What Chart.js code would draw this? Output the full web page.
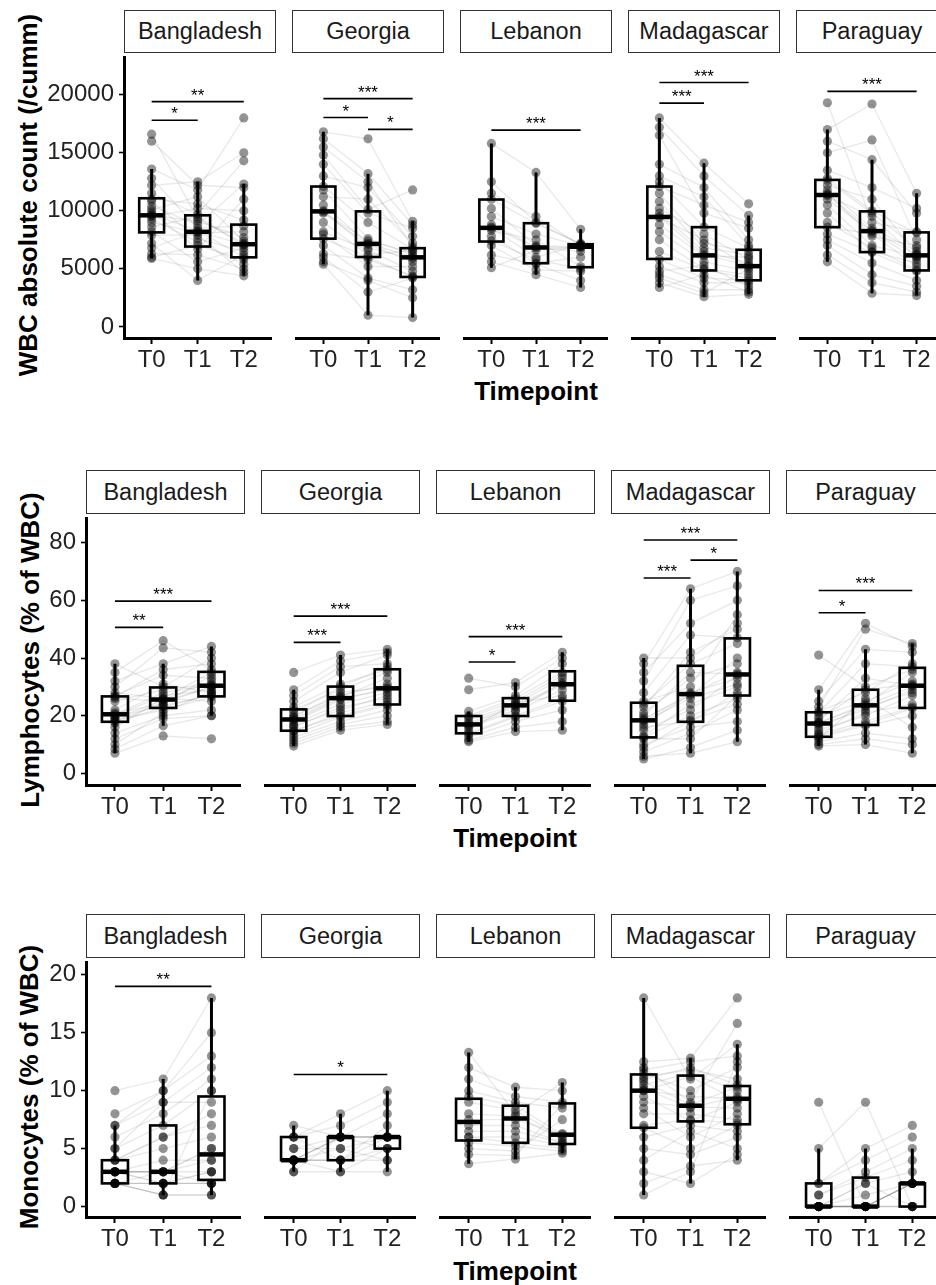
<!DOCTYPE html>
<html>
<head>
<meta charset="utf-8">
<script src="https://cdn.jsdelivr.net/npm/chart.js@4.4.1/dist/chart.umd.min.js"></script>
<style>
  body { margin: 0; background: #fff; font-family: "Liberation Sans", Arial, sans-serif; }
  #wrap { position: relative; width: 936px; height: 1285px; overflow: hidden; background: #fff; }
  #wrap canvas { position: absolute; }
  .strip { position: absolute; box-sizing: border-box; border: 1.3px solid #333; background: #fff;
           font-size: 23.5px; color: #1a1a1a; display: flex; align-items: center; justify-content: center; }
  .ytitle { position: absolute; font-weight: bold; font-size: 26px; color: #000; white-space: nowrap;
            transform: translate(-50%, -50%) rotate(-90deg); }
  .xtitle { position: absolute; font-weight: bold; font-size: 26px; color: #000; white-space: nowrap;
            transform: translate(-50%, -50%); }
</style>
</head>
<body>
<div id="wrap"></div>
<script>
const countries = ['Bangladesh', 'Georgia', 'Lebanon', 'Madagascar', 'Paraguay'];
const timepoints = ['T0', 'T1', 'T2'];

const wbcTicks = [0, 5000, 10000, 15000, 20000];
const lymTicks = [0, 20, 40, 60, 80];
const monoTicks = [0, 5, 10, 15, 20];

const yTitles = ['WBC absolute count (/cumm)', 'Lymphocytes (% of WBC)', 'Monocytes (% of WBC)'];

// boxes: per country, T0/T1/T2 = [lower whisker, Q1, median, Q3, upper whisker]
const wbcBox = [
  [[5900, 8140, 9610, 11080, 13600], [4000, 6920, 8190, 9610, 12500], [4400, 5990, 7120, 8810, 12300]],
  [[5400, 7600, 9950, 12090, 16800], [1000, 6020, 7150, 9950, 13200], [800, 4300, 5990, 6780, 9100]],
  [[5100, 7350, 8530, 10970, 15800], [4500, 5480, 6840, 8930, 13300], [3400, 5140, 6900, 7120, 8400]],
  [[3400, 5850, 9470, 12090, 18000], [2600, 4860, 6160, 8590, 14100], [2800, 4010, 5230, 6640, 9600]],
  [[5600, 8590, 11360, 12660, 17000], [2900, 6440, 8250, 9950, 14400], [2700, 4860, 6160, 8140, 11500]]
];
const lymBox = [
  [[7, 17.9, 20.5, 26.7, 38], [16.5, 22.7, 25.6, 29.8, 38], [20, 26.7, 30.4, 35.2, 44]],
  [[9.5, 14.8, 18.7, 22.2, 29], [15, 19.9, 26.1, 30.1, 41], [17, 23.9, 29.5, 36.1, 43]],
  [[11, 13.9, 17, 19.9, 21.5], [14.5, 19.9, 23.6, 26.1, 31.5], [15, 25.2, 30.9, 35.4, 42]],
  [[5, 12.5, 18.4, 24.5, 40], [7, 17.9, 27.5, 37.3, 64], [11, 27, 34.3, 46.8, 70]],
  [[9.5, 12.7, 17.3, 21.2, 29], [10, 16.8, 23.6, 29, 43], [7, 22.7, 30.4, 36.6, 45]]
];
const monoBox = [
  [[2, 2, 3, 4, 7], [1, 2, 3, 7, 11], [1, 2.3, 4.5, 9.5, 18]],
  [[3, 4, 4, 6, 7], [3, 4, 6, 6, 8], [3, 5, 6, 6, 10]],
  [[3.7, 5.7, 7.3, 9.3, 13.3], [4.1, 5.5, 7.6, 8.7, 10.3], [4.6, 5.4, 6.2, 8.9, 10.7]],
  [[1, 6.8, 10, 11.4, 18], [2, 7.35, 8.7, 11.3, 12.8], [4, 7.1, 9.3, 10.4, 14]],
  [[0, 0, 0, 2, 5], [0, 0, 0, 2.5, 5], [0, 0, 2, 2, 5]]
];

// individual values, per country [T0, T1, T2]; index i is the same subject across timepoints
const wbcPoints = [
  [ // Bangladesh
    [16600, 16000, 13600, 12800, 12200, 11500, 11000, 10800, 10400, 10100, 9900, 9700, 9600, 9500, 9300, 9000, 8600, 8200, 7900, 7200, 6800, 6300, 6000, 5900],
    [9300, 12200, 11800, 8500, 12500, 9700, 10600, 7600, 8800, 11200, 6700, 8300, 9100, 10200, 7300, 8100, 9500, 5600, 7900, 4000, 8200, 6200, 7000, 5000],
    [7200, 12000, 18000, 8700, 15000, 14300, 9200, 6500, 12300, 7400, 11000, 6000, 7700, 10000, 5400, 8200, 7000, 6800, 4700, 6200, 7100, 5000, 5800, 4400]
  ],
  [ // Georgia
    [16800, 16200, 15500, 14800, 14000, 13000, 12100, 11800, 11200, 10500, 10000, 9900, 9800, 9000, 8200, 8000, 7600, 7000, 6300, 6000, 5600, 5400],
    [16200, 13200, 12500, 10100, 9800, 12000, 9000, 7600, 11000, 7200, 6800, 7400, 7100, 6200, 6600, 5200, 6000, 4200, 5800, 3000, 4000, 1000],
    [9100, 8800, 6900, 11800, 8500, 7800, 6700, 6200, 7200, 6000, 5900, 6400, 5600, 6600, 4800, 5200, 4300, 3200, 4400, 4200, 2500, 800]
  ],
  [ // Lebanon
    [15800, 12500, 11500, 11000, 10200, 9500, 8800, 8600, 8500, 8300, 7800, 7400, 7000, 6200, 5600, 5100],
    [13300, 9000, 9500, 8900, 7000, 8000, 6900, 6800, 6000, 7500, 5500, 5800, 4900, 5400, 4500, 6600],
    [8400, 7100, 7000, 7200, 6900, 7000, 6800, 6500, 7100, 5200, 6000, 5000, 4800, 4000, 3400, 6900]
  ],
  [ // Madagascar
    [18000, 17200, 16500, 14000, 13000, 12500, 12100, 11500, 10800, 10200, 9800, 9500, 9400, 8800, 8200, 7500, 6500, 5800, 5200, 4800, 4500, 4200, 3800, 3400],
    [14100, 13000, 9800, 12000, 11200, 8600, 10500, 7200, 6800, 8000, 6500, 6200, 7500, 6100, 5600, 5000, 4900, 4200, 3800, 5300, 3200, 2900, 2600, 4500],
    [10600, 9600, 8500, 7500, 7000, 6800, 9000, 6500, 6200, 5800, 5500, 5300, 5200, 6000, 4800, 4500, 4200, 4000, 3800, 3500, 3200, 5000, 2800, 3000]
  ],
  [ // Paraguay
    [19300, 17000, 16000, 15000, 13500, 12800, 12600, 12200, 11800, 11500, 11400, 11300, 11000, 10500, 9800, 9000, 8600, 8000, 7500, 7000, 6200, 5600],
    [9000, 19200, 14400, 16100, 12000, 10000, 9800, 11000, 8500, 7800, 8300, 9500, 8200, 7000, 6500, 6800, 8000, 6400, 5500, 4500, 3800, 2900],
    [8200, 11500, 9800, 7500, 10200, 8100, 6800, 6300, 6500, 7000, 6200, 6000, 5800, 6100, 5500, 4900, 5200, 4800, 4000, 3500, 3000, 2700]
  ]
];
const lymPoints = [
  [ // Bangladesh
    [38, 35, 32, 30, 28, 27, 26.5, 26, 25, 22, 21, 20.5, 20, 19.5, 19, 18.5, 18, 17.5, 16, 14, 12, 10, 8.5, 7],
    [30, 46, 38, 43.5, 26, 34, 36, 25, 29, 31, 24, 28, 27, 23.5, 25.5, 22, 24.5, 23, 26, 20, 19, 21, 16.5, 13],
    [40, 36, 44, 42, 35, 33, 38, 30, 31, 28, 34, 30.5, 29, 27, 32, 26.5, 30, 27.5, 25, 22, 20, 28.5, 20, 12]
  ],
  [ // Georgia
    [35, 29, 27, 25, 23, 22, 21, 20, 19.5, 19, 18.5, 18, 17, 16.5, 16, 15, 14.5, 13.5, 12.5, 11.5, 10.5, 9.5],
    [41, 39, 37, 35, 31, 29, 30, 27, 28, 26.5, 26, 25.5, 24, 22, 23, 20, 21, 19.5, 18, 17, 16, 15],
    [43, 42, 38, 41, 36, 35, 37, 31, 30, 33, 29, 29.5, 28, 27, 26, 24, 25, 23.5, 22, 20, 18, 17]
  ],
  [ // Lebanon
    [33, 29, 21.5, 20, 19.5, 18.5, 17.5, 17, 16.5, 16, 15, 14, 13.5, 12.5, 11.5, 11],
    [30, 31.5, 27, 26, 25, 24, 23.5, 23, 22, 21.5, 24.5, 20, 19.5, 18, 16, 14.5],
    [40, 42, 38, 35, 34, 33, 31, 30.5, 31.5, 29, 27, 26, 25, 22, 18, 15]
  ],
  [ // Madagascar
    [40, 38, 35, 32, 28, 25, 24, 23, 21, 20, 19, 18.5, 18, 17, 16, 15, 13, 12.5, 12, 10, 9, 7.5, 6, 5],
    [40, 64, 52, 60, 48, 30, 38, 42, 33, 35, 27, 28, 26, 27.5, 18, 22, 24, 20, 12, 16, 18.5, 14, 7, 9],
    [52, 70, 60, 65, 47, 55, 45, 50, 38, 34.5, 40, 33, 31, 35, 28, 34, 30, 26, 27, 18, 24, 22, 11, 15]
  ],
  [ // Paraguay
    [41, 29, 25, 23, 21.5, 21, 20, 19, 18, 17.5, 17.5, 17, 16, 15, 14, 13.5, 13, 12.5, 12, 11, 10, 9.5],
    [30, 52, 43, 50, 28, 38, 25, 29, 33, 24, 23.5, 22, 23, 20, 21, 18, 17, 16.5, 26, 14, 12, 10],
    [36, 44, 42, 45, 38, 37, 32, 31, 30.5, 35, 30, 29, 28, 27, 24, 23, 22.5, 20, 16, 12, 10, 7]
  ]
];
const monoPoints = [
  [ // Bangladesh
    [10, 8, 7, 7, 6, 5, 5, 4, 4, 4, 3, 3, 3, 3, 3, 3, 3, 2, 2, 2, 2, 2, 2, 2],
    [11, 10, 10, 9, 8, 7, 9, 6, 6, 5, 3, 3, 3, 4, 3, 2, 2, 3, 2, 2, 2, 1, 1, 1],
    [18, 15, 13, 12, 11, 10, 9, 8, 7, 6, 5, 4, 5, 4, 3, 3, 3, 2, 2, 2, 2, 1, 10, 1]
  ],
  [ // Georgia
    [7, 6, 6, 6, 5, 5, 4, 4, 4, 4, 4, 4, 4, 4, 3, 3],
    [6, 8, 4, 7, 5, 6, 6, 6, 4, 5, 6, 4, 3, 4, 6, 3],
    [6, 10, 7, 9, 6, 8, 5, 6, 6, 4, 6, 5, 5, 4, 6, 3]
  ],
  [ // Lebanon
    [13.3, 12, 11, 10, 9.5, 9, 8, 7.5, 7, 6.5, 6, 6, 5.5, 5, 4.5, 3.7],
    [8, 10.3, 9.5, 9, 8.7, 8.3, 7.8, 7.5, 7, 6.5, 6, 5.5, 5.2, 4.8, 4.4, 4.1],
    [10.7, 10, 9, 8.5, 6.2, 6, 5.8, 6.3, 5.5, 5.5, 5.3, 5, 4.8, 7.5, 8.8, 4.6]
  ],
  [ // Madagascar
    [18, 12.5, 12, 11.8, 11.5, 11.2, 11, 10.8, 10.5, 10.2, 10, 10, 9.5, 9, 8.5, 8, 7, 6.8, 6, 5, 4, 3, 2, 1],
    [11, 12.8, 9, 12.5, 10, 11.8, 12, 8.8, 11.5, 8.5, 9.5, 11.2, 7.4, 8.6, 6, 8, 7.5, 5, 7, 4.5, 6.5, 2, 3.5, 3],
    [14, 18, 15.8, 13, 12, 11, 10.5, 10.3, 10, 9.5, 9.3, 9.2, 9, 8.5, 8, 7.5, 7.2, 7, 6.5, 6, 5, 4.5, 4, 12.5]
  ],
  [ // Paraguay
    [9, 5, 2, 2, 1, 1, 0, 0, 0, 0, 0, 0, 0, 0, 0, 0],
    [0, 9, 5, 4, 3, 2.5, 2, 1, 0, 0, 0, 0, 2, 0, 0, 0],
    [2, 0, 7, 6, 5, 4, 3, 2, 2, 2, 2, 0, 0, 0, 0, 2]
  ]
];

// significance: [country index, from timepoint, to timepoint, y value, label]
const wbcSig = [
  [0, 0, 2, 19400, '**'], [0, 0, 1, 17800, '*'],
  [1, 0, 2, 19660, '***'], [1, 0, 1, 18030, '*'], [1, 1, 2, 17010, '*'],
  [2, 0, 2, 16950, '***'],
  [3, 0, 2, 21050, '***'], [3, 0, 1, 19270, '***'],
  [4, 0, 2, 20290, '***']
];
const lymSig = [
  [0, 0, 2, 59.7, '***'], [0, 0, 1, 50.6, '**'],
  [1, 0, 2, 54.5, '***'], [1, 0, 1, 45.4, '***'],
  [2, 0, 2, 47.4, '***'], [2, 0, 1, 38.6, '*'],
  [3, 0, 2, 80.9, '***'], [3, 1, 2, 73.9, '*'], [3, 0, 1, 67.7, '***'],
  [4, 0, 2, 63.4, '***'], [4, 0, 1, 55.7, '*']
];
const monoSig = [
  [0, 0, 2, 19.0, '**'],
  [1, 0, 2, 11.4, '*']
];

const rowData = [
  { box: wbcBox, points: wbcPoints, sig: wbcSig, ticks: wbcTicks },
  { box: lymBox, points: lymPoints, sig: lymSig, ticks: lymTicks },
  { box: monoBox, points: monoPoints, sig: monoSig, ticks: monoTicks }
];

// page layout (pixels) per row
const rowLayout = [
  { panelX: [124, 292, 460, 628, 796], panelW: 152, top: 53, bottom: 338, stripTop: 10, axisW: 84,
    yMin: -958, yMax: 23195, yTitle: [28, 195], xTitle: [536, 391] },
  { panelX: [86, 261, 436, 611, 786], panelW: 159, top: 514, bottom: 785, stripTop: 470, axisW: 44,
    yMin: -4.0, yMax: 88.3, yTitle: [30, 650], xTitle: [515, 838] },
  { panelX: [86, 261, 436, 611, 786], panelW: 159, top: 958, bottom: 1217, stripTop: 914, axisW: 44,
    yMin: -0.9, yMax: 21.05, yTitle: [29, 1087], xTitle: [515, 1271] }
];

const FONT = '"Liberation Sans", Arial, sans-serif';
const X_AXIS_H = 46;
const BOX_HALF = 0.27;
const wrap = document.getElementById('wrap');

function boxPlugin(box, sig) {
  return {
    id: 'boxAndBrackets',
    beforeDatasetDraw(chart, args) {
      if (args.index !== 0) return; // points are dataset 0 (drawn last), boxes go just under them
      const { ctx, scales: { x, y } } = chart;
      ctx.save();
      ctx.strokeStyle = '#000';
      box.forEach((b, t) => {
        const [lo, q1, md, q3, hi] = b;
        const cx = x.getPixelForValue(t);
        const hw = x.getPixelForValue(t + BOX_HALF) - cx;
        ctx.lineWidth = 3;
        ctx.beginPath();
        ctx.moveTo(cx, y.getPixelForValue(hi)); ctx.lineTo(cx, y.getPixelForValue(q3));
        ctx.moveTo(cx, y.getPixelForValue(q1)); ctx.lineTo(cx, y.getPixelForValue(lo));
        ctx.stroke();
        ctx.lineWidth = 2.6;
        ctx.strokeRect(cx - hw, y.getPixelForValue(q3), 2 * hw, y.getPixelForValue(q1) - y.getPixelForValue(q3));
        ctx.lineWidth = 4.5;
        ctx.beginPath();
        ctx.moveTo(cx - hw, y.getPixelForValue(md)); ctx.lineTo(cx + hw, y.getPixelForValue(md));
        ctx.stroke();
      });
      ctx.restore();
    },
    afterDatasetsDraw(chart) {
      const { ctx, scales: { x, y } } = chart;
      ctx.save();
      ctx.strokeStyle = '#000';
      ctx.fillStyle = '#000';
      ctx.lineWidth = 1.6;
      ctx.font = '17px ' + FONT;
      ctx.textAlign = 'center';
      ctx.textBaseline = 'alphabetic';
      sig.forEach(([a, b, v, label]) => {
        const x0 = x.getPixelForValue(a), x1 = x.getPixelForValue(b), py = y.getPixelForValue(v);
        ctx.beginPath(); ctx.moveTo(x0, py); ctx.lineTo(x1, py); ctx.stroke();
        ctx.fillText(label, (x0 + x1) / 2, py - 1);
      });
      ctx.restore();
    }
  };
}

rowLayout.forEach((L, r) => {
  const d = rowData[r];

  const yt = document.createElement('div');
  yt.className = 'ytitle';
  yt.textContent = yTitles[r];
  yt.style.left = L.yTitle[0] + 'px';
  yt.style.top = L.yTitle[1] + 'px';
  wrap.appendChild(yt);

  const xt = document.createElement('div');
  xt.className = 'xtitle';
  xt.textContent = 'Timepoint';
  xt.style.left = L.xTitle[0] + 'px';
  xt.style.top = L.xTitle[1] + 'px';
  wrap.appendChild(xt);

  countries.forEach((name, c) => {
    const strip = document.createElement('div');
    strip.className = 'strip';
    strip.textContent = name;
    strip.style.left = L.panelX[c] + 'px';
    strip.style.top = L.stripTop + 'px';
    strip.style.width = L.panelW + 'px';
    strip.style.height = (L.top - L.stripTop) + 'px';
    wrap.appendChild(strip);

    const first = c === 0;
    const axisW = first ? L.axisW : 0;
    const w = L.panelW + axisW;
    const h = L.bottom - L.top + X_AXIS_H;
    const cv = document.createElement('canvas');
    cv.width = w; cv.height = h;
    cv.style.left = (L.panelX[c] - axisW) + 'px';
    cv.style.top = L.top + 'px';
    cv.style.width = w + 'px';
    cv.style.height = h + 'px';
    wrap.appendChild(cv);

    const pts = d.points[c];
    const datasets = [{
      data: pts.flatMap((arr, t) => arr.map(v => ({ x: t, y: v }))),
      pointRadius: 4.6,
      pointBackgroundColor: 'rgba(0,0,0,0.42)',
      pointBorderWidth: 0,
      showLine: false
    }];
    for (let i = 0; i < pts[0].length; i++) {
      datasets.push({
        data: pts.map((arr, t) => ({ x: t, y: arr[i] })),
        showLine: true,
        borderColor: 'rgba(0,0,0,0.085)',
        borderWidth: 1.4,
        pointRadius: 0
      });
    }

    new Chart(cv, {
      type: 'scatter',
      data: { datasets },
      options: {
        responsive: false,
        animation: false,
        events: [],
        layout: { padding: 0 },
        plugins: { legend: { display: false }, tooltip: { enabled: false } },
        scales: {
          x: {
            type: 'linear', min: -0.6, max: 2.6,
            afterBuildTicks: s => { s.ticks = [0, 1, 2].map(v => ({ value: v })); },
            afterFit: s => { s.height = X_AXIS_H; s.paddingLeft = 0; s.paddingRight = 0; },
            ticks: { callback: v => timepoints[v], font: { size: 24, family: FONT }, color: '#222',
                     padding: 2, maxRotation: 0, autoSkip: false },
            grid: { display: true, drawOnChartArea: false, drawTicks: true, tickLength: 6,
                    tickWidth: 2, color: '#000' },
            border: { display: true, color: '#000', width: 3 }
          },
          y: {
            type: 'linear', min: L.yMin, max: L.yMax, display: first,
            afterBuildTicks: s => { s.ticks = d.ticks.map(v => ({ value: v })); },
            // no extra room for half tick labels: the panel must fill the canvas height
            afterFit: s => { s.width = axisW; s.paddingTop = 0; s.paddingBottom = 0; },
            ticks: { callback: v => String(v), font: { size: 24, family: FONT }, color: '#222',
                     padding: 5, autoSkip: false },
            grid: { display: true, drawOnChartArea: false, drawTicks: true, tickLength: 5,
                    tickWidth: 1.6, color: '#000' },
            border: { display: true, color: '#000', width: 3 }
          }
        }
      },
      plugins: [boxPlugin(d.box[c], d.sig.filter(s => s[0] === c).map(s => s.slice(1)))]
    });
  });
});
</script>
</body>
</html>
